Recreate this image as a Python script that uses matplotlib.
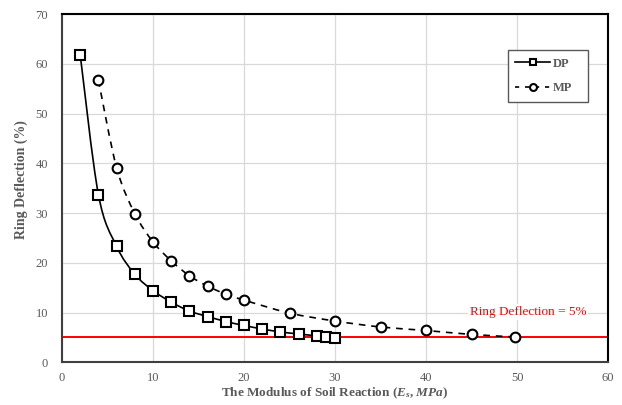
import matplotlib.pyplot as plt
from matplotlib.path import Path
from matplotlib.patches import PathPatch
from matplotlib.lines import Line2D
import numpy as np

plt.rcParams['font.family'] = ['Liberation Serif', 'DejaVu Serif']
plt.rcParams['mathtext.fontset'] = 'custom'
plt.rcParams['mathtext.it'] = 'Liberation Serif:italic:bold'
plt.rcParams['mathtext.rm'] = 'Liberation Serif:bold'

# data
dp_x = [2, 4, 6, 8, 10, 12, 14, 16, 18, 20, 22, 24, 26, 28, 29, 30]
dp_y = [61.8, 33.7, 23.3, 17.7, 14.4, 12.1, 10.3, 9.2, 8.2, 7.4, 6.7, 6.1, 5.7, 5.3, 5.1, 4.9]
mp_x = [4, 6, 8, 10, 12, 14, 16, 18, 20, 25, 30, 35, 40, 45, 49.8]
mp_y = [56.7, 39.1, 29.9, 24.2, 20.4, 17.4, 15.3, 13.7, 12.5, 9.9, 8.3, 7.1, 6.4, 5.6, 5.1]
limit_y = 5
limit_label = 'Ring Deflection = 5%'

GRAY = '#595959'


def smooth_path(x, y):
    # Excel-like smoothed line: Catmull-Rom segments as cubic Beziers
    pts = np.column_stack([x, y]).astype(float)
    n = len(pts)
    verts = [pts[0]]
    codes = [Path.MOVETO]
    for i in range(n - 1):
        p0 = pts[max(i - 1, 0)]
        p1 = pts[i]
        p2 = pts[i + 1]
        p3 = pts[min(i + 2, n - 1)]
        verts += [p1 + (p2 - p0) / 6, p2 - (p3 - p1) / 6, p2]
        codes += [Path.CURVE4] * 3
    return Path(verts, codes)


fig = plt.figure(figsize=(6.22, 4.05), dpi=100)
ax = fig.add_axes([0.0997, 0.1054, 0.8778, 0.86])

ax.set_xlim(0, 60)
ax.set_ylim(0, 70)
ax.set_xticks(np.arange(0, 61, 10))
ax.set_yticks(np.arange(0, 71, 10))
ax.grid(True, color='#d9d9d9', lw=0.9)
ax.set_axisbelow(True)
ax.tick_params(length=0, labelsize=9, labelcolor=GRAY)
ax.tick_params(axis='y', pad=10)
ax.tick_params(axis='x', pad=7)

for side in ['left', 'bottom']:
    ax.spines[side].set_color('#404040')
    ax.spines[side].set_linewidth(1.5)
for side in ['top', 'right']:
    ax.spines[side].set_color('black')
    ax.spines[side].set_linewidth(1.5)

ax.axhline(limit_y, color='red', lw=1.4, zorder=2)

ax.add_patch(PathPatch(smooth_path(dp_x, dp_y), fill=False, ec='black',
                       lw=1.2, zorder=3))
ax.add_patch(PathPatch(smooth_path(mp_x, mp_y), fill=False, ec='black',
                       lw=1.2, ls=(0, (4, 3.5)), zorder=3))
ax.plot(dp_x, dp_y, ls='none', marker='s', ms=7.5, mfc='white', mec='black',
        mew=1.5, zorder=4)
ax.plot(mp_x, mp_y, ls='none', marker='o', ms=7, mfc='white', mec='black',
        mew=1.5, zorder=4)

ax.text(51.2, 10.1, limit_label, color='red', fontsize=9.5, ha='center',
        va='center', bbox=dict(fc='white', ec='none', pad=1.5), zorder=2)

handles = [
    Line2D([], [], color='black', lw=1.2, marker='s', ms=5, mfc='white',
           mec='black', mew=1.5),
    Line2D([], [], color='black', lw=1.2, ls=(0, (2.5, 3.5)), marker='o', ms=5,
           mfc='white', mec='black', mew=1.5),
]
leg = ax.legend(handles, ['DP', 'MP'], loc='upper left',
                bbox_to_anchor=(0.816, 0.896, 0.147, 0), mode='expand',
                borderaxespad=0, fancybox=False, edgecolor=GRAY, framealpha=1,
                handlelength=2.8, labelspacing=1.0, handletextpad=0.2,
                borderpad=0.6, prop={'size': 9, 'weight': 'bold'})
leg.get_frame().set_linewidth(1.0)
for t in leg.get_texts():
    t.set_color(GRAY)

ax.set_xlabel('The Modulus of Soil Reaction ($E_s$, $MPa$)', fontsize=9.5,
              fontweight='bold', color=GRAY, va='center')
ax.xaxis.set_label_coords(0.5, -0.088)
ax.set_ylabel('Ring Deflection (%)', fontsize=10, fontweight='bold',
              color=GRAY, va='center')
ax.yaxis.set_label_coords(-0.075, 0.526)

fig.savefig('out.png', dpi=100)
